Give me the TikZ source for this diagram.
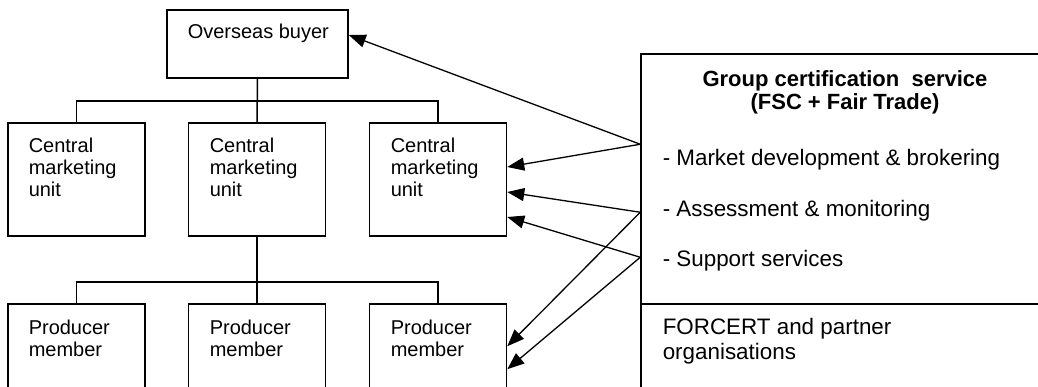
\documentclass[tikz,border=0pt]{standalone}
\usepackage{fontspec}
\setmainfont{Liberation Sans}
\usetikzlibrary{arrows.meta}

\begin{document}
\begin{tikzpicture}[x=1pt, y=-1pt, line width=1.5pt,
		unitbox/.style={draw, rectangle, inner sep=0pt, minimum width=137pt, minimum height=113pt},
		memberbox/.style={draw, rectangle, inner sep=0pt, minimum width=137pt, minimum height=126pt},
		boxtext/.style={anchor=base west, align=left, inner sep=0pt, font=\fontsize{20}{22}\selectfont},
		sidetext/.style={anchor=base west, align=left, inner sep=0pt, font=\fontsize{22.4}{25}\selectfont},
		link/.style={-{Triangle[length=17pt, width=13pt]}, line width=1.3pt}]
		\useasboundingbox (0,0) rectangle (1038,387);

		% buyer and marketing units
		\node[draw, rectangle, inner sep=0pt, minimum width=181pt, minimum height=68pt] (buyer) at (257.5, 44) {};
		\node[unitbox] (cmu1) at (76.5, 179.5) {};
		\node[unitbox] (cmu2) at (257, 179.5) {};
		\node[unitbox] (cmu3) at (438, 179.5) {};
		\node[memberbox] (pm1) at (76.5, 367) {};
		\node[memberbox] (pm2) at (257, 367) {};
		\node[memberbox] (pm3) at (438, 367) {};

		% texts (base = last line)
		\node[boxtext] (buyertxt) at (187, 39) {Overseas buyer};
		\node[boxtext] (cmu1txt) at (28, 197) {Central\\marketing\\unit};
		\node[boxtext] (cmu2txt) at (209, 197) {Central\\marketing\\unit};
		\node[boxtext] (cmu3txt) at (390, 197) {Central\\marketing\\unit};
		\node[boxtext] (pm1txt) at (28, 356) {Producer\\member};
		\node[boxtext] (pm2txt) at (209, 356) {Producer\\member};
		\node[boxtext] (pm3txt) at (390, 356) {Producer\\member};

		% tree lines
		\coordinate (bus1) at (257, 101);
		\coordinate (bus2) at (257, 282);
		\draw (buyer.south) -- (cmu2.north);
		\draw (cmu1.north) |- (bus1) -| (cmu3.north);
		\draw (cmu2.south) -- (pm2.north);
		\draw (pm1.north) |- (bus2) -| (pm3.north);

		% certification service
		\node[draw, rectangle, inner sep=0pt, minimum width=409pt, minimum height=250pt] (certbox) at (845.5, 179) {};
		\node[draw, rectangle, inner sep=0pt, minimum width=409pt, minimum height=126pt] (forcert) at (845.5, 367) {};
		\node[anchor=base, align=center, inner sep=0pt, font=\fontsize{22}{23}\selectfont\bfseries] (title) at (845, 110) {Group certification\ \ service\\(FSC + Fair Trade)};
		\node[sidetext] (market) at (662, 166) {- Market development \& brokering};
		\node[sidetext] (assess) at (662, 217) {- Assessment \& monitoring};
		\node[sidetext] (support) at (662, 266) {- Support services};
		\node[sidetext] (forcerttxt) at (662, 359) {FORCERT and partner\\organisations};

		% arrows
		\coordinate (srcA) at ([yshift=-91pt]certbox.north west);
		\coordinate (srcB) at ([yshift=-159pt]certbox.north west);
		\coordinate (srcC) at ([yshift=-204pt]certbox.north west);
		\draw[link] (srcA) -- ([yshift=9pt]buyer.east);
		\draw[link] (srcA) -- ([yshift=12.5pt]cmu3.east);
		\draw[link] (srcB) -- ([yshift=-12.5pt]cmu3.east);
		\draw[link] (srcC) -- ([yshift=-37.5pt]cmu3.east);
		\draw[link] (srcB) -- ([yshift=-43pt]pm3.north east);
		\draw[link] (srcC) -- ([yshift=-66pt]pm3.north east);
	\end{tikzpicture}
\end{document}
